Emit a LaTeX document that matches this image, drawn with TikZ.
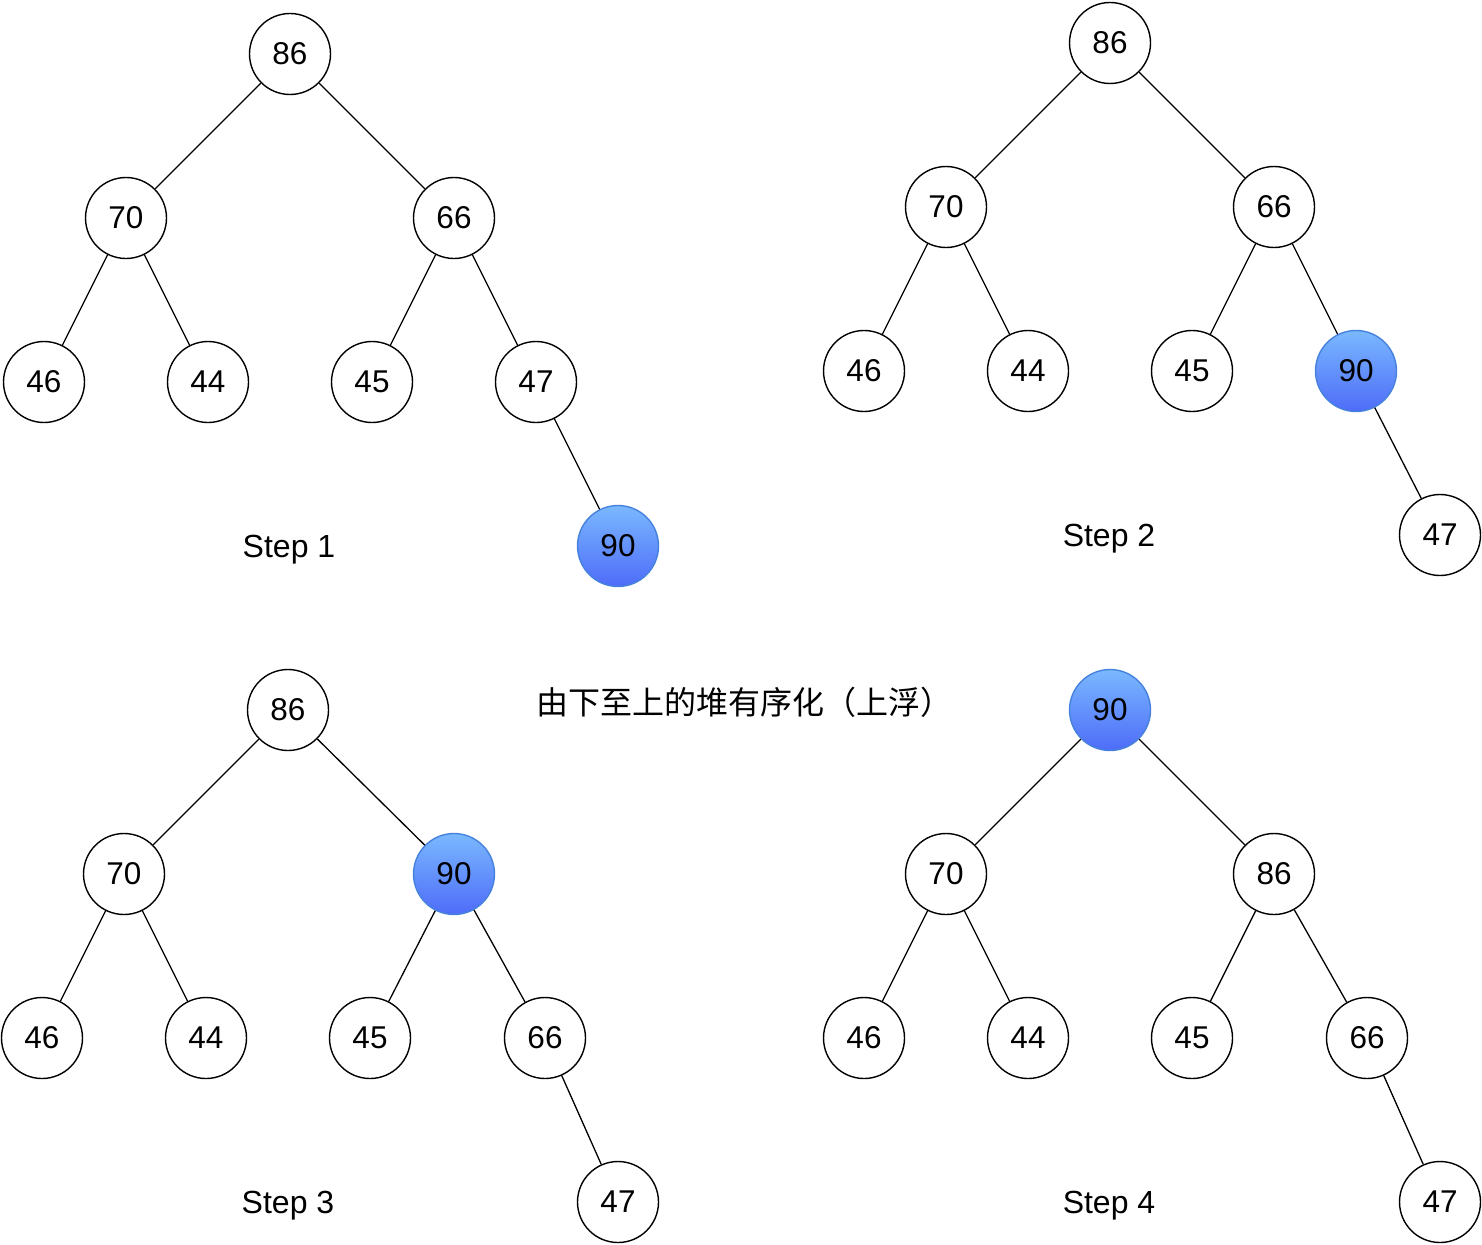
\documentclass[tikz,border=0pt]{standalone}
\usepackage{fontspec}
\setmainfont{Liberation Sans}
\newfontfamily\cjk{Noto Sans CJK SC}
\definecolor{btop}{RGB}{122,184,255}
\definecolor{bbot}{RGB}{78,108,248}
\definecolor{bedge}{RGB}{70,130,220}
\begin{document}
\begin{tikzpicture}[x=1pt,y=-1pt,
  nd/.style={circle,draw=black,line width=1.4pt,fill=white,minimum size=81pt,inner sep=0pt,font=\fontsize{31.5}{32}\selectfont},
  hot/.style={nd,draw=bedge,top color=btop,bottom color=bbot},
  lbl/.style={font=\fontsize{32}{32}\selectfont},
  ed/.style={line width=1.3pt}]
\useasboundingbox (0,0) rectangle (1482,1244);
% Step 1
\node[nd] (a1) at (290,54) {86};
\node[nd] (a2) at (126,218) {70};
\node[nd] (a3) at (454,218) {66};
\node[nd] (a4) at (44,382) {46};
\node[nd] (a5) at (208,382) {44};
\node[nd] (a6) at (372,382) {45};
\node[nd] (a7) at (536,382) {47};
\node[hot] (a8) at (618,546) {90};
\node[lbl] (s1) at (289,550) {Step 1};
\draw[ed] (a1)--(a2) (a1)--(a3) (a2)--(a4) (a2)--(a5) (a3)--(a6) (a3)--(a7) (a7)--(a8);
% Step 2
\node[nd] (b1) at (1110,43) {86};
\node[nd] (b2) at (946,207) {70};
\node[nd] (b3) at (1274,207) {66};
\node[nd] (b4) at (864,371) {46};
\node[nd] (b5) at (1028,371) {44};
\node[nd] (b6) at (1192,371) {45};
\node[hot] (b7) at (1356,371) {90};
\node[nd] (b8) at (1440,535) {47};
\node[lbl] (s2) at (1109,539) {Step 2};
\draw[ed] (b1)--(b2) (b1)--(b3) (b2)--(b4) (b2)--(b5) (b3)--(b6) (b3)--(b7) (b7)--(b8);
% Step 3
\node[nd] (c1) at (288,710) {86};
\node[nd] (c2) at (124,874) {70};
\node[hot] (c3) at (454,874) {90};
\node[nd] (c4) at (42,1038) {46};
\node[nd] (c5) at (206,1038) {44};
\node[nd] (c6) at (370,1038) {45};
\node[nd] (c7) at (545,1038) {66};
\node[nd] (c8) at (618,1202) {47};
\node[lbl] (s3) at (288,1206) {Step 3};
\draw[ed] (c1)--(c2) (c1)--(c3) (c2)--(c4) (c2)--(c5) (c3)--(c6) (c3)--(c7) (c7)--(c8);
% Step 4
\node[hot] (d1) at (1110,710) {90};
\node[nd] (d2) at (946,874) {70};
\node[nd] (d3) at (1274,874) {86};
\node[nd] (d4) at (864,1038) {46};
\node[nd] (d5) at (1028,1038) {44};
\node[nd] (d6) at (1192,1038) {45};
\node[nd] (d7) at (1367,1038) {66};
\node[nd] (d8) at (1440,1202) {47};
\node[lbl] (s4) at (1109,1206) {Step 4};
\draw[ed] (d1)--(d2) (d1)--(d3) (d2)--(d4) (d2)--(d5) (d3)--(d6) (d3)--(d7) (d7)--(d8);
% title
\node[font=\cjk\fontsize{32}{32}\selectfont] (title) at (744,702) {由下至上的堆有序化（上浮）};
\end{tikzpicture}
\end{document}
